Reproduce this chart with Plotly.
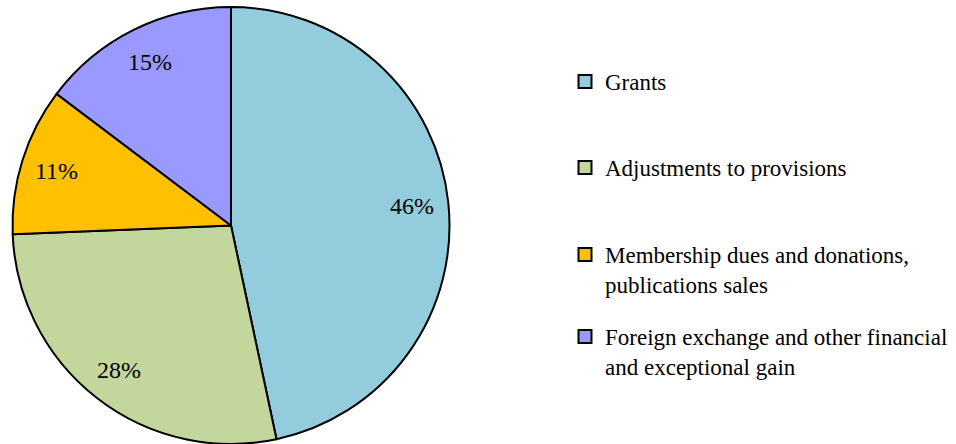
import math
import plotly.graph_objects as go

categories = [
    "Grants",
    "Adjustments to provisions",
    "Membership dues and donations,<br>publications sales",
    "Foreign exchange and other financial<br>and exceptional gain",
]
values = [46.66, 27.71, 10.92, 14.71]
pct_labels = ["46%", "28%", "11%", "15%"]
colors = ["#93CDDD", "#C3D69B", "#FFC000", "#9999FF"]

FONT = "Liberation Serif, Times New Roman, serif"
W, H = 956, 444
DOM_X = [12 / W, 450 / W]
DOM_Y = [0.0, 1 - 7 / H]

fig = go.Figure()
fig.add_trace(go.Pie(
    labels=categories,
    values=values,
    sort=False,
    direction="clockwise",
    rotation=0,
    marker=dict(colors=colors, line=dict(color="black", width=2)),
    textposition="none",
    domain=dict(x=DOM_X, y=DOM_Y),
    showlegend=False,
    hoverinfo="label+percent",
))

# percentage labels placed along each slice bisector (derived from values)
cx_px = (DOM_X[0] + DOM_X[1]) / 2 * W
wpx = (DOM_X[1] - DOM_X[0]) * W
hpx = (DOM_Y[1] - DOM_Y[0]) * H
R = min(wpx, hpx) / 2
cy_px = H - (DOM_Y[0] + DOM_Y[1]) / 2 * H
total = sum(values)
cum = 0
for v, lab in zip(values, pct_labels):
    theta = math.radians((cum + v / 2) / total * 360)
    cum += v
    px = cx_px + 0.835 * R * math.sin(theta)
    py = cy_px - 0.835 * R * math.cos(theta)
    fig.add_annotation(
        x=px / W, y=1 - py / H, xref="paper", yref="paper",
        xanchor="center", yanchor="middle",
        text=lab, showarrow=False,
        font=dict(family=FONT, size=24, color="black"),
    )

legend_tops = [60, 146, 233, 315]
legend_names = ["legend", "legend2", "legend3", "legend4"]
legend_layout = {}
for i, (name, col) in enumerate(zip(categories, colors)):
    fig.add_trace(go.Scatter(
        x=[None], y=[None], mode="markers", name=name,
        legend=legend_names[i],
        marker=dict(symbol="square", size=13, color=col,
                    line=dict(color="black", width=2)),
    ))
    legend_layout[legend_names[i]] = dict(
        x=565 / W, y=1 - legend_tops[i] / H, xanchor="left", yanchor="top",
        itemwidth=30, valign="top",
        font=dict(family=FONT, size=23, color="black"),
        bgcolor="rgba(0,0,0,0)",
    )

fig.update_layout(
    width=W, height=H,
    margin=dict(l=0, r=0, t=0, b=0),
    paper_bgcolor="white", plot_bgcolor="white",
    xaxis=dict(visible=False), yaxis=dict(visible=False),
    font=dict(family=FONT, size=23, color="black"),
    **legend_layout,
)

fig.write_html(
    "out.html",
    config={"displayModeBar": False},
    post_script="document.body.style.margin='0';",
)
